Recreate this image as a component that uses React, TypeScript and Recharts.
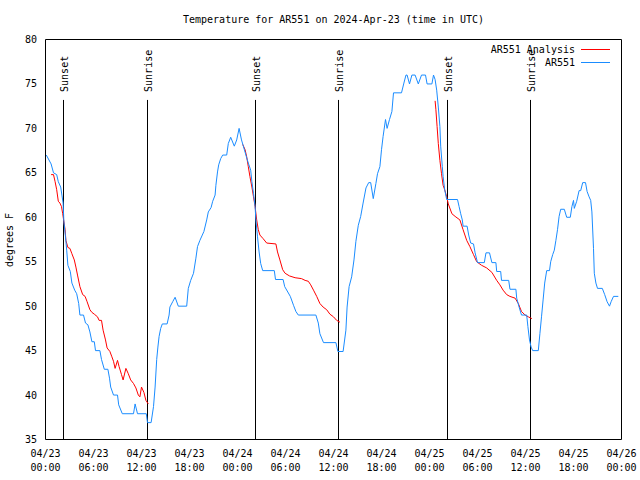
import { LineChart, Line, XAxis, YAxis, ReferenceLine } from "recharts";

const FONT = "'DejaVu Sans Mono', 'Liberation Mono', monospace";

const title = "Temperature for AR551 on 2024-Apr-23 (time in UTC)";
const yLabel = "degrees F";
const firstDay = 23;

const xTicks = [0, 6, 12, 18, 24, 30, 36, 42, 48, 54, 60, 66, 72];
const xMinorTicks = [
  0, 2, 4, 6, 8, 10, 12, 14, 16, 18, 20, 22, 24, 26, 28, 30, 32, 34, 36, 38, 40,
  42, 44, 46, 48, 50, 52, 54, 56, 58, 60, 62, 64, 66, 68, 70, 72,
];
const yTicks = [35, 40, 45, 50, 55, 60, 65, 70, 75, 80];

// [hours since 04/23 00:00 UTC, deg F]
const stationObs: [number, number][] = [
  [0.1, 67], [0.7, 66], [1.0, 65], [1.4, 64.8], [1.6, 64], [1.9, 63.4], [2.05, 62.5],
  [2.2, 61.6], [2.3, 59.5], [2.5, 57.8], [2.65, 56.3], [2.8, 54.6], [3.1, 53.9],
  [3.3, 52.6], [3.65, 51.8], [3.9, 51.4], [4.15, 50.3], [4.3, 49], [4.75, 49],
  [5.0, 48.1], [5.3, 47.9], [5.55, 47.1], [5.8, 46], [6.1, 46], [6.25, 45], [6.8, 45],
  [7.0, 44], [7.35, 42.9], [7.8, 42.9], [8.0, 41.9], [8.15, 40.9], [8.5, 40], [9.0, 40],
  [9.15, 38.9], [9.6, 37.9], [11.0, 37.9], [11.2, 39], [11.5, 37.9], [12.6, 37.9],
  [12.75, 36.9], [13.2, 36.9], [13.5, 38.7], [13.7, 40.9], [13.9, 44], [14.05, 45.4],
  [14.2, 46.6], [14.4, 47.5], [14.6, 48], [15.2, 48], [15.45, 49], [15.55, 49.9],
  [15.9, 50.5], [16.2, 51], [16.6, 50], [17.65, 50], [17.85, 52], [18.15, 52.9],
  [18.5, 53.7], [18.8, 55.4], [19.0, 56.7], [19.3, 57.4], [19.6, 58], [19.8, 58.4],
  [20.15, 59.7], [20.35, 60.6], [20.7, 61.1], [20.9, 61.8], [21.2, 62.5], [21.3, 63.6],
  [21.5, 65.1], [21.65, 65.9], [21.9, 66.6], [22.15, 67], [22.65, 67], [22.85, 68.3],
  [23.15, 69], [23.6, 68], [23.9, 68.7], [24.2, 70], [24.5, 68.7], [24.7, 68.1],
  [25.05, 67], [25.35, 66.1], [25.65, 65.3], [25.8, 64], [26.0, 62.7], [26.2, 61.2],
  [26.3, 59.7], [26.5, 57.8], [26.7, 56.1], [26.9, 54.8], [27.15, 54], [28.6, 54],
  [28.75, 53], [29.7, 53], [29.9, 52.2], [30.6, 51.1], [31.0, 50.1], [31.3, 49.4],
  [31.6, 49], [33.8, 49], [34.1, 48.1], [34.3, 46.9], [34.75, 45.9], [36.3, 45.9],
  [36.55, 44.9], [37.2, 44.9], [37.55, 47.3], [37.7, 49.9], [37.95, 52.2], [38.27, 53.3],
  [38.56, 55.2], [38.8, 57.3], [39.1, 59.1], [39.4, 60.1], [39.7, 61.6], [40.06, 63.3],
  [40.4, 63.9], [40.65, 63.9], [40.97, 62.1], [41.3, 63.8], [41.5, 64.9], [41.8, 65.7],
  [42.0, 67.6], [42.2, 69.1], [42.5, 71], [42.7, 70], [43.0, 71], [43.3, 71.9],
  [43.5, 74], [44.5, 74], [44.8, 75.1], [45.06, 76], [45.2, 76], [45.5, 75], [45.8, 76],
  [46.2, 76], [46.6, 75], [47.0, 76], [47.5, 76], [47.7, 75], [48.3, 75], [48.5, 76],
  [48.7, 75.5], [48.9, 74.3], [49.1, 72.4], [49.3, 70.2], [49.4, 68], [49.6, 65.7],
  [49.7, 64.6], [49.9, 63.1], [50.15, 62], [51.5, 62], [51.7, 61.2], [51.9, 60.4],
  [52.1, 59.7], [52.2, 59], [52.7, 59], [52.9, 58], [53.15, 57.1], [53.5, 57],
  [53.7, 56], [54.0, 54.9], [54.85, 54.9], [55.06, 56], [55.5, 56], [55.8, 54.9],
  [56.3, 54.9], [56.4, 53.9], [56.9, 53.9], [57.0, 52.9], [57.9, 52.9], [58.06, 51.9],
  [58.8, 51.9], [58.9, 50.9], [59.2, 49.9], [59.5, 49], [60.15, 49], [60.3, 47.7],
  [60.5, 46.2], [60.7, 45.4], [60.9, 45], [61.6, 45], [61.8, 46.9], [62.0, 48.8],
  [62.2, 50.7], [62.4, 52.6], [62.65, 54], [63.0, 54], [63.15, 55], [63.4, 55.8],
  [63.6, 56.3], [63.8, 57.4], [64.0, 58.6], [64.2, 60.1], [64.4, 60.9], [64.85, 60.9],
  [65.15, 60], [65.6, 60], [65.8, 61.2], [66.0, 61.9], [66.1, 61], [66.4, 61.8],
  [66.7, 63], [66.9, 63], [67.15, 63.9], [67.5, 63.9], [67.7, 62.9], [67.95, 62.3],
  [68.15, 61.9], [68.3, 60.6], [68.5, 56.5], [68.6, 53.7], [68.8, 52.6], [69.0, 52],
  [69.6, 52], [69.9, 51.3], [70.2, 50.5], [70.5, 50], [70.7, 50.5], [71.0, 51.1],
  [71.6, 51.1],
];

const analysisDay1: [number, number][] = [
  [0.7, 64.8], [1.0, 64.8], [1.2, 64], [1.4, 63.1], [1.6, 61.8], [1.8, 61.6], [2.0, 61.2],
  [2.15, 60.4], [2.45, 58.6], [2.55, 57.4], [2.8, 56.6], [3.05, 56.5], [3.3, 55.9],
  [3.6, 55.2], [3.8, 54.4], [4.0, 53.5], [4.3, 52.2], [4.65, 51.3], [4.95, 51.1],
  [5.2, 50.5], [5.55, 49.6], [5.8, 49.3], [6.1, 49.1], [6.5, 48.8], [6.7, 48.4],
  [7.0, 48.4], [7.2, 47.3], [7.5, 46.2], [7.7, 45.3], [8.05, 44.9], [8.3, 44.3],
  [8.5, 43.8], [8.7, 43], [9.0, 43.9], [9.2, 43.2], [9.5, 42.3], [9.7, 41.7], [10.05, 43],
  [10.35, 42.4], [10.65, 41.7], [11.0, 41.3], [11.3, 40.8], [11.6, 40], [11.8, 39.8],
  [12.0, 40.9], [12.3, 40.3], [12.55, 39.4], [12.85, 39],
];

const analysisDay2: [number, number][] = [
  [24.65, 68.2], [24.95, 67.6], [25.15, 66.8], [25.35, 65.7], [25.55, 64.6], [25.8, 63.4],
  [26.0, 62.3], [26.2, 61.2], [26.4, 59.7], [26.6, 58.6], [26.8, 58], [27.2, 57.6],
  [27.65, 57.1], [28.8, 57], [29.0, 56.1], [29.3, 55.2], [29.65, 54.1], [29.95, 53.7],
  [30.5, 53.4], [31.2, 53.2], [32.0, 53.1], [32.45, 52.9], [32.85, 52.8], [33.15, 52.4],
  [33.5, 51.8], [33.9, 51.1], [34.3, 50.3], [34.7, 49.9], [35.15, 49.6], [35.55, 49.1],
  [36.0, 48.8], [36.4, 48.4], [36.8, 48.2],
];

const analysisDay3: [number, number][] = [
  [48.7, 73.1], [48.8, 72.1], [48.95, 70.2], [49.1, 68.3], [49.3, 66.4], [49.5, 64.9],
  [49.7, 63.6], [49.9, 63.1], [50.15, 62.3], [50.35, 61.5], [50.8, 60.4], [51.2, 60.1],
  [51.8, 59.7], [52.2, 58.6], [52.65, 57.4], [53.05, 56.7], [53.5, 55.8], [53.9, 55],
  [54.5, 54.6], [55.15, 54.3], [55.8, 53.8], [56.4, 52.9], [56.8, 52.4], [57.2, 51.8],
  [57.65, 51.3], [58.05, 51.1], [58.7, 50.9], [59.1, 50.3], [59.5, 49.4], [59.95, 49],
  [60.35, 48.8], [60.8, 48.6],
];

const sunEvents = [
  { h: 2.3, label: "Sunset" },
  { h: 12.7, label: "Sunrise" },
  { h: 26.2, label: "Sunset" },
  { h: 36.65, label: "Sunrise" },
  { h: 50.2, label: "Sunset" },
  { h: 60.6, label: "Sunrise" },
];
const markerTop = 73.2;

const legendItems = [
  { name: "AR551 Analysis", color: "#ff0000" },
  { name: "AR551", color: "#1a8cff" },
];

const toRows = (pts: [number, number][]) => pts.map(([h, t]) => ({ h, t }));

const pad = (n: number) => String(n).padStart(2, "0");

const TimeTick = (props: any) => {
  const { x, y, payload } = props;
  const h = payload.value as number;
  const day = firstDay + Math.floor(h / 24);
  const hr = h % 24;
  return (
    <text x={x} y={y} textAnchor="middle" fontFamily={FONT} fontSize={10} fill="#000">
      <tspan x={x} dy={17.5}>{`04/${pad(day)}`}</tspan>
      <tspan x={x} dy={14}>{`${pad(hr)}:00`}</tspan>
    </text>
  );
};

const TempTick = (props: any) => {
  const { x, y, payload } = props;
  return (
    <text x={x - 8.5} y={y + 3.5} textAnchor="end" fontFamily={FONT} fontSize={10} fill="#000">
      {payload.value}
    </text>
  );
};

const NoLabel = () => <g />;

const sunShape = (label: string) => (p: any) => {
  const x = Math.round(p.x1 - 0.5) + 0.5;
  const top = Math.min(p.y1, p.y2);
  const bottom = Math.max(p.y1, p.y2);
  return (
    <g>
      <line x1={x} x2={x} y1={top} y2={bottom} stroke="#000" strokeWidth={1} />
      <text
        transform={`translate(${x + 4.5},${top - 8}) rotate(-90)`}
        fontFamily={FONT}
        fontSize={10}
        fill="#000"
      >
        {label}
      </text>
    </g>
  );
};

export default function App() {
  const frame = { stroke: "#000", strokeWidth: 1 };
  return (
    <div
      style={{
        position: "fixed",
        left: 0,
        top: 0,
        width: 640,
        height: 480,
        background: "#fff",
        fontFamily: FONT,
        fontSize: 10,
        color: "#000",
      }}
    >
      <div
        style={{
          position: "absolute",
          top: 14,
          left: 45.5,
          width: 576,
          lineHeight: "12px",
          textAlign: "center",
          whiteSpace: "pre",
        }}
      >
        {title}
      </div>
      <LineChart
        width={640}
        height={480}
        margin={{ top: 39.5, right: 18.5, bottom: 0.5, left: 0.5 }}
      >
        <XAxis
          xAxisId="x"
          dataKey="h"
          type="number"
          domain={[0, 72]}
          ticks={xTicks}
          interval={0}
          height={40}
          tickLine={false}
          tickSize={0}
          tickMargin={0}
          axisLine={frame}
          tick={<TimeTick />}
        />
        <XAxis
          xAxisId="xb"
          dataKey="h"
          type="number"
          domain={[0, 72]}
          ticks={xMinorTicks}
          interval={0}
          orientation="bottom"
          mirror
          tickSize={4}
          tickLine={frame}
          axisLine={false}
          tick={<NoLabel />}
        />
        <XAxis
          xAxisId="xt"
          dataKey="h"
          type="number"
          domain={[0, 72]}
          ticks={xMinorTicks}
          interval={0}
          orientation="top"
          mirror
          tickSize={4}
          tickLine={frame}
          axisLine={frame}
          tick={<NoLabel />}
        />
        <YAxis
          yAxisId="y"
          type="number"
          domain={[35, 80]}
          ticks={yTicks}
          interval={0}
          width={45}
          tickLine={false}
          tickSize={0}
          tickMargin={0}
          axisLine={frame}
          tick={<TempTick />}
        />
        <YAxis
          yAxisId="yl"
          type="number"
          domain={[35, 80]}
          ticks={yTicks}
          interval={0}
          orientation="left"
          mirror
          tickSize={6}
          tickLine={frame}
          axisLine={false}
          tick={<NoLabel />}
        />
        <YAxis
          yAxisId="yr"
          type="number"
          domain={[35, 80]}
          ticks={yTicks}
          interval={0}
          orientation="right"
          mirror
          tickSize={6}
          tickLine={frame}
          axisLine={frame}
          tick={<NoLabel />}
        />
        {sunEvents.map((e, i) => (
          <ReferenceLine
            key={i}
            xAxisId="x"
            yAxisId="y"
            segment={[
              { x: e.h, y: 35 },
              { x: e.h, y: markerTop },
            ]}
            shape={sunShape(e.label)}
          />
        ))}
        {[analysisDay1, analysisDay2, analysisDay3].map((seg, i) => (
          <Line
            key={`a${i}`}
            xAxisId="x"
            yAxisId="y"
            data={toRows(seg)}
            dataKey="t"
            type="linear"
            stroke={legendItems[0].color}
            strokeWidth={1}
            dot={false}
            activeDot={false}
            isAnimationActive={false}
          />
        ))}
        <Line
          xAxisId="x"
          yAxisId="y"
          data={toRows(stationObs)}
          dataKey="t"
          type="linear"
          stroke={legendItems[1].color}
          strokeWidth={1}
          dot={false}
          activeDot={false}
          isAnimationActive={false}
        />
      </LineChart>
      <div
        style={{
          position: "absolute",
          left: 10 - 40,
          top: 240 - 6,
          width: 80,
          height: 12,
          lineHeight: "12px",
          textAlign: "center",
          transform: "rotate(-90deg)",
        }}
      >
        {yLabel}
      </div>
      {legendItems.map((it, i) => (
        <div
          key={it.name}
          style={{
            position: "absolute",
            top: 43.5 + i * 13,
            left: 400,
            width: 210,
            height: 12,
            lineHeight: "12px",
            display: "flex",
            justifyContent: "flex-end",
            alignItems: "center",
            whiteSpace: "pre",
          }}
        >
          <span style={{ marginRight: 6 }}>{it.name}</span>
          <span style={{ display: "inline-block", width: 29, height: 1, background: it.color }} />
        </div>
      ))}
    </div>
  );
}
